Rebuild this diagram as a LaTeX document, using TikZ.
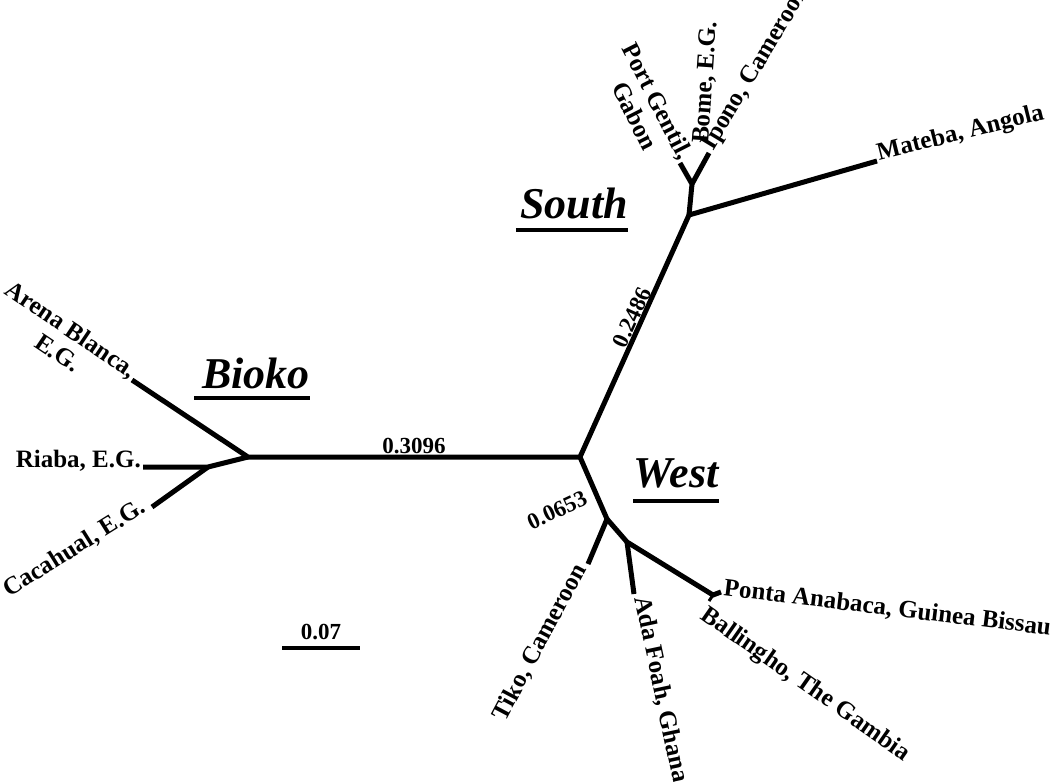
\documentclass[tikz,border=0pt]{standalone}
\usepackage{fontspec}
\setmainfont{Liberation Serif}
\usetikzlibrary{positioning}

\tikzset{
  branch/.style={line width=5pt,line join=miter},
  leaf/.style={font=\fontsize{25}{27}\selectfont\bfseries,inner sep=2pt},
  num/.style={font=\fontsize{23}{25}\selectfont\bfseries,inner sep=2pt},
  clade/.style={font=\fontsize{44}{48}\selectfont\bfseries\itshape,inner sep=0pt},
  uline/.style={line width=3.5pt},
}

\begin{document}
\begin{tikzpicture}[x=1pt,y=-1pt]
\useasboundingbox (0,0) rectangle (1050,782);
% inner nodes of the tree
\coordinate (bio) at (248,457);
\coordinate (ria) at (208,467);
\coordinate (root) at (580,457);
\coordinate (sth) at (689,215);
\coordinate (sthin) at (692,184);
\coordinate (wst) at (607,519);
\coordinate (wstin) at (627,542);
\coordinate (bal) at (713,595);
% tips
\coordinate (tArena) at (132,380);
\coordinate (tRiaba) at (143,467);
\coordinate (tCaca) at (152,507);
\coordinate (tGentil) at (680,163);
\coordinate (tIpono) at (709,153);
\coordinate (tMateba) at (877,161);
\coordinate (tTiko) at (588,564);
\coordinate (tAda) at (634,594);
\coordinate (tPonta) at (721,592);
\coordinate (tBall) at (709,601);
% branches
\draw[branch] (tArena) -- (bio) -- (root);
\draw[branch] (tRiaba) -- (ria) -- (bio);
\draw[branch] (tCaca) -- (ria);
\draw[branch] (root) -- (sth) -- (tMateba);
\draw[branch] (sth) -- (sthin) -- (tGentil);
\draw[branch] (sthin) -- (tIpono);
\draw[branch] (root) -- (wst) -- (tTiko);
\draw[branch] (wst) -- (wstin) -- (bal) -- (tPonta);
\draw[branch] (wstin) -- (tAda);
\draw[branch,line width=3pt] (bal) -- (tBall);
% branch lengths
\path (bio) -- (root) node[num,midway,above=1pt] (lenBio) {0.3096};
\path (root) -- (sth) node[num,pos=0.56,sloped,above=0pt] (lenSth) {0.2486};
\node[num,rotate=25] (lenWst) at (557,510) {0.0653};
% tip labels
\node[leaf,anchor=base east,rotate=-34] (arena) at (tArena) {Arena Blanca,};
\node[leaf,rotate=-34,below=3pt of arena] (arenaEG) {E.G.};
\node[leaf,anchor=base east] (riaba) at (tRiaba) {Riaba, E.G.};
\node[leaf,anchor=base east,rotate=32] (caca) at ([xshift=-3pt,yshift=-3pt]tCaca) {Cacahual, E.G.};
\node[leaf,anchor=base east,rotate=-63] (gentil) at (tGentil) {Port Gentil,};
\node[leaf,rotate=-63,below=3pt of gentil] (gabon) {Gabon};
\node[leaf,anchor=base west,rotate=86] (bome) at (708,146) {Bome, E.G.};
\node[leaf,anchor=base west,rotate=59] (ipono) at ([xshift=3pt]tIpono) {Ipono, Cameroon};
\node[leaf,anchor=base west,rotate=14] (mateba) at (tMateba) {Mateba, Angola};
\node[leaf,anchor=base east,rotate=62] (tiko) at ([yshift=-3pt]tTiko) {Tiko, Cameroon};
\node[leaf,anchor=base west,rotate=-78] (ada) at ([yshift=-2pt]tAda) {Ada Foah, Ghana};
\node[leaf,anchor=base west,rotate=-7] (ponta) at ([yshift=-3pt]tPonta) {Ponta Anabaca, Guinea Bissau};
\node[leaf,anchor=north west,rotate=-35] (ball) at (tBall) {Ballingho, The Gambia};
% clade names
\node[clade,anchor=base] (bioko) at (256,388) {Bioko};
\node[clade,anchor=base] (south) at (574,218) {South};
\node[clade,anchor=base] (west) at (676,487) {West};
\draw[uline] ([yshift=-10pt,xshift=-8pt]bioko.base west) -- ([yshift=-10pt]bioko.base east);
\draw[uline] ([yshift=-12pt,xshift=-4pt]south.base west) -- ([yshift=-12pt]south.base east);
\draw[uline] ([yshift=-14pt]west.base west) -- ([yshift=-14pt]west.base east);
% scale bar
\coordinate (sbL) at (282,648);
\coordinate (sbR) at (360,648);
\draw[line width=4pt] (sbL) -- (sbR) node[num,midway,above=4pt] (sbLab) {0.07};
\end{tikzpicture}
\end{document}
